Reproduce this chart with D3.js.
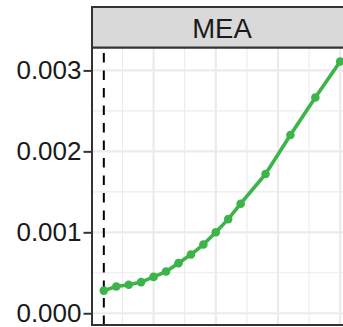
<!DOCTYPE html>
<html><head><meta charset="utf-8">
<script src="https://cdn.jsdelivr.net/npm/d3@7"></script>
<style>html,body{margin:0;padding:0;background:#fff;overflow:hidden}</style>
</head><body>
<script>
// ---- data ----
const facet = "MEA";
const years = [2016,2017,2018,2019,2020,2021,2022,2023,2024,2025,2026,2027,2029,2031,2033,2035];
const values = [0.000280,0.000330,0.000353,0.000385,0.000449,0.000515,0.000619,0.000725,0.000849,0.001001,0.001163,0.001353,0.001720,0.002203,0.002665,0.003110];
const yTicks = [0.000,0.001,0.002,0.003];
const yMinor = [0.0005,0.0015,0.0025];
const xMajor = [2020,2025,2030,2035];
const xMinor = [2017.5,2022.5,2027.5,2032.5];
const refYear = 2016;

const W = 343, H = 327;
const pL = 92, pR = 352, pT = 47.5, pB = 325, sT = 7;

const svg = d3.select("body").append("svg").attr("width", W).attr("height", H);

const xr = d3.extent(years), xe = (xr[1]-xr[0])*0.05;
const x = d3.scaleLinear().domain([xr[0]-xe, xr[1]+xe]).range([pL, pR]);
const y = d3.scaleLinear().domain([-0.000145, 0.003283]).range([pB, pT]);

// gridlines
const g = svg.append("g");
g.selectAll(".ymin").data(yMinor).join("line")
  .attr("x1", pL).attr("x2", pR).attr("y1", d=>y(d)).attr("y2", d=>y(d))
  .attr("stroke", "#EBEBEB").attr("stroke-width", 1.1);
g.selectAll(".xmin").data(xMinor).join("line")
  .attr("y1", pT).attr("y2", pB).attr("x1", d=>x(d)).attr("x2", d=>x(d))
  .attr("stroke", "#EBEBEB").attr("stroke-width", 1.1);
g.selectAll(".ymaj").data(yTicks).join("line")
  .attr("x1", pL).attr("x2", pR).attr("y1", d=>y(d)).attr("y2", d=>y(d))
  .attr("stroke", "#EBEBEB").attr("stroke-width", 2.2);
g.selectAll(".xmaj").data(xMajor).join("line")
  .attr("y1", pT).attr("y2", pB).attr("x1", d=>x(d)).attr("x2", d=>x(d))
  .attr("stroke", "#EBEBEB").attr("stroke-width", 2.2);

// reference dashed line
svg.append("line")
  .attr("x1", x(refYear)).attr("x2", x(refYear)).attr("y1", pB).attr("y2", pT)
  .attr("stroke", "#000").attr("stroke-width", 2).attr("stroke-dasharray", "9.5,8");

// series
const data = years.map((yr,i)=>({yr, v: values[i]}));
svg.append("path").datum(data)
  .attr("d", d3.line().x(d=>x(d.yr)).y(d=>y(d.v)))
  .attr("fill", "none").attr("stroke", "#3CB44A").attr("stroke-width", 3.6)
  .attr("stroke-linejoin", "round");
svg.selectAll(".pt").data(data).join("circle")
  .attr("cx", d=>x(d.yr)).attr("cy", d=>y(d.v)).attr("r", 4.3)
  .attr("fill", "#3CB44A");

// panel border
svg.append("rect").attr("x", pL).attr("y", pT).attr("width", pR-pL).attr("height", pB-pT)
  .attr("fill", "none").attr("stroke", "#333").attr("stroke-width", 2);

// strip
svg.append("rect").attr("x", pL).attr("y", sT).attr("width", pR-pL).attr("height", pT-sT)
  .attr("fill", "#D9D9D9").attr("stroke", "#333").attr("stroke-width", 2);
svg.append("text").attr("x", (pL+pR)/2).attr("y", 38.3)
  .attr("text-anchor", "middle").attr("font-family", "Liberation Sans, Arial, sans-serif")
  .attr("font-size", 27.5).attr("fill", "#1A1A1A").text(facet);

// y axis
const ax = svg.append("g").attr("transform", `translate(${pL},0)`)
  .call(d3.axisLeft(y).tickValues(yTicks).tickFormat(d3.format(".3f")).tickSize(8.5).tickPadding(2));
ax.select(".domain").remove();
ax.selectAll(".tick line").attr("stroke", "#333").attr("stroke-width", 2);
ax.selectAll(".tick text").attr("font-family", "Liberation Sans, Arial, sans-serif")
  .attr("font-size", 26).attr("fill", "#1A1A1A");
</script>
</body></html>
